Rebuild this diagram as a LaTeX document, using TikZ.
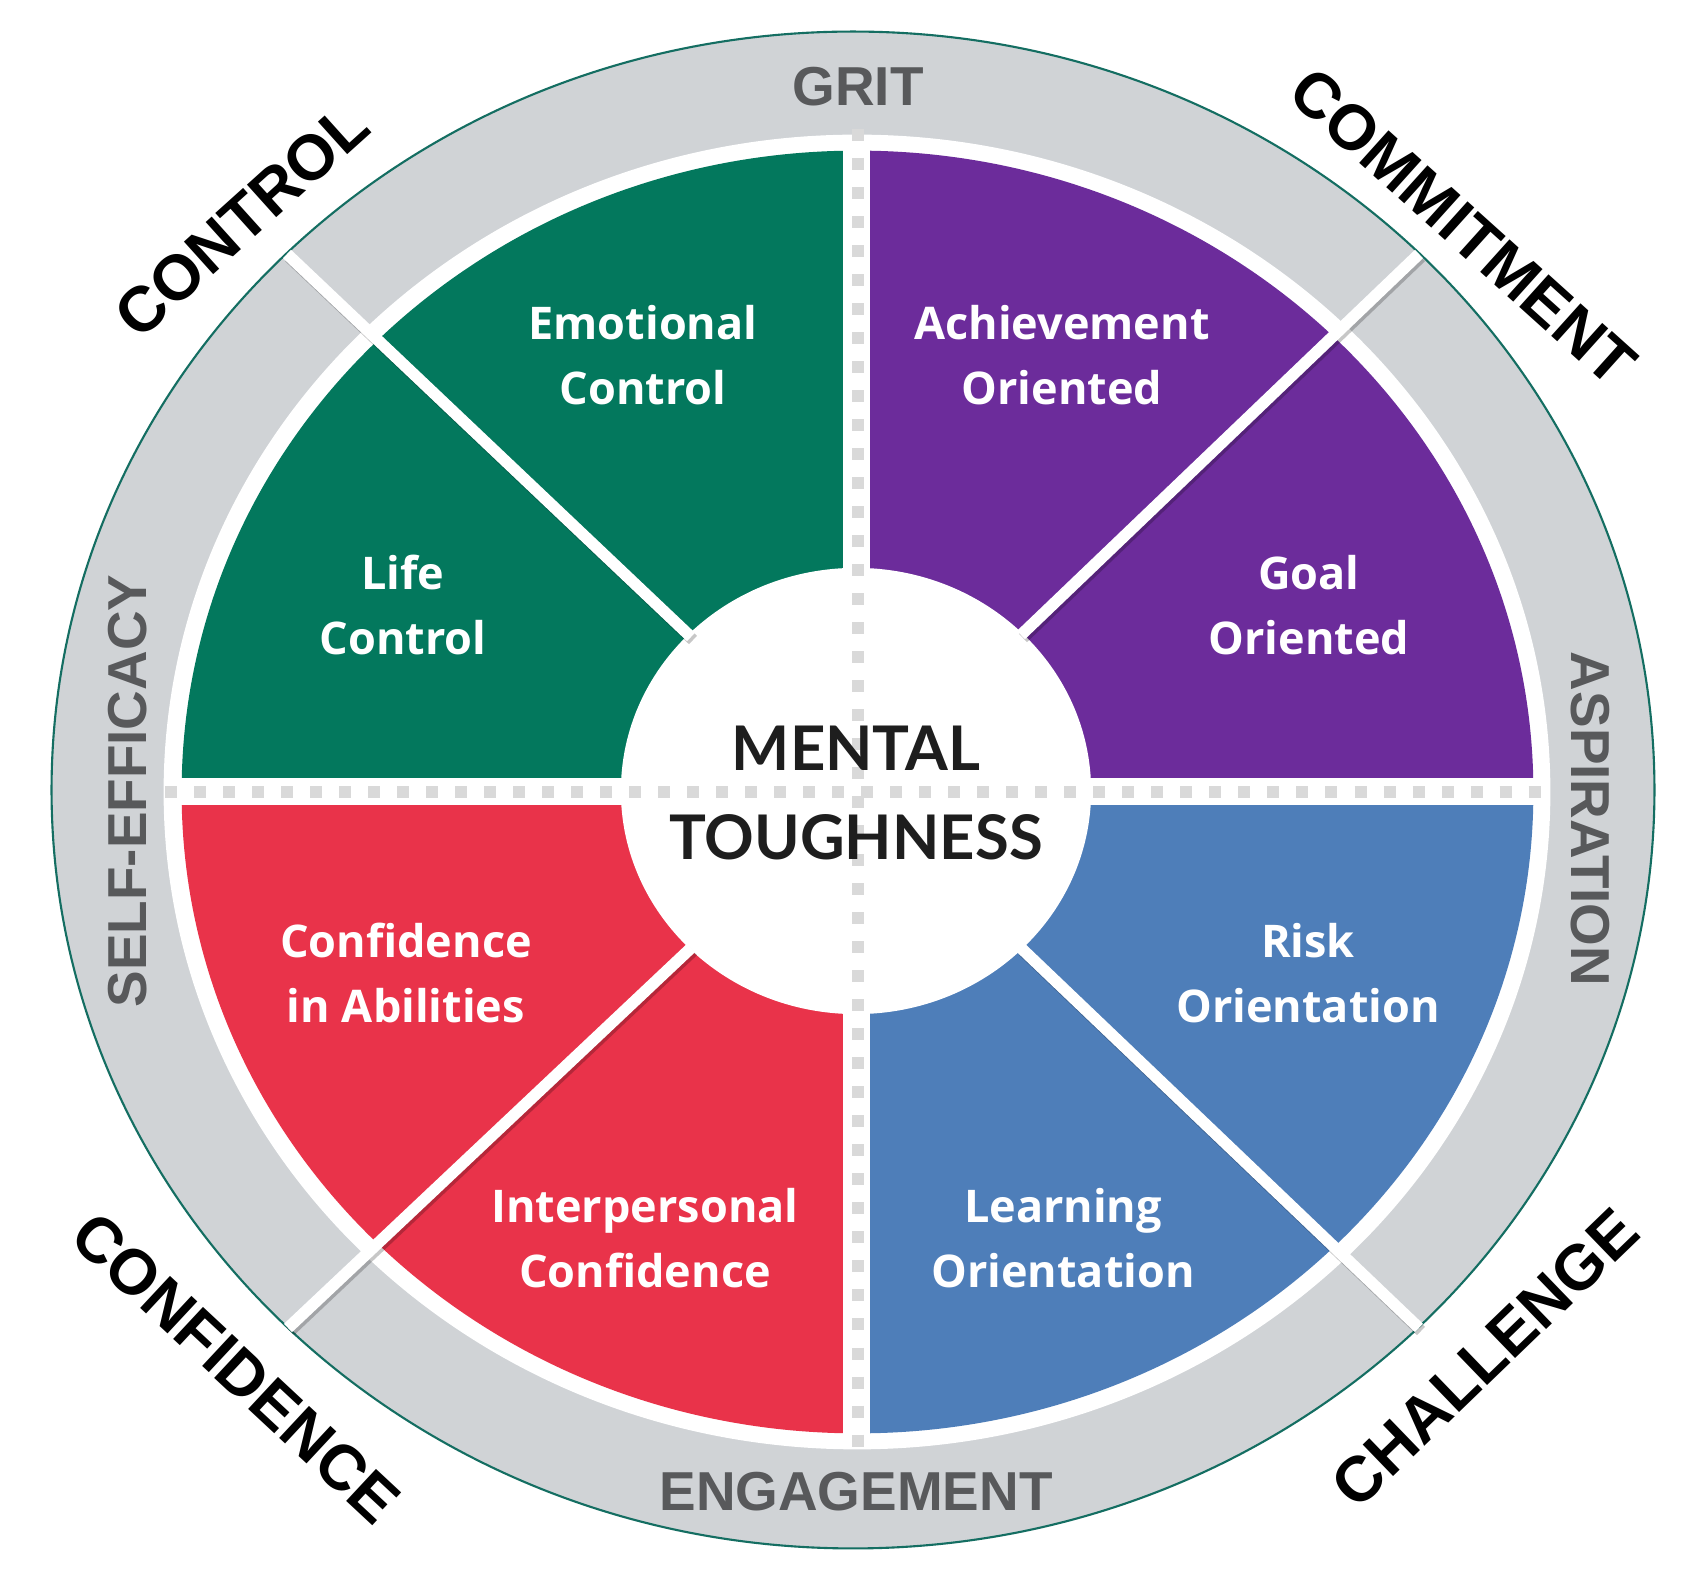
\documentclass[tikz,border=0pt]{standalone}
\usepackage{fontspec}
\newfontfamily\latofont{Lato}
\newfontfamily\opensansfont{Open Sans}
\newfontfamily\arialfont{Liberation Sans}
\definecolor{mtgreen}{RGB}{3,120,93}
\definecolor{mtpurple}{RGB}{108,44,155}
\definecolor{mtred}{RGB}{233,51,74}
\definecolor{mtblue}{RGB}{78,126,185}
\definecolor{ringgray}{RGB}{208,211,214}
\definecolor{rimteal}{RGB}{20,110,98}
\definecolor{ringtext}{RGB}{88,89,91}
\definecolor{dotgray}{RGB}{217,217,217}
\definecolor{titleblack}{RGB}{30,30,30}
\begin{document}
\begin{tikzpicture}[x=0.01cm,y=-0.01cm,
  seclabel/.style={text=white, inner sep=0pt, align=center,
    font=\opensansfont\bfseries\fontsize{12.8}{18.5}\selectfont},
  centerlabel/.style={text=titleblack, inner sep=0pt, align=center,
    font=\latofont\bfseries\fontsize{17.5}{25.3}\selectfont},
  ringlabel/.style={text=ringtext, inner sep=0pt,
    font=\arialfont\bfseries\fontsize{15.6}{15.6}\selectfont},
  outerlabel/.style={text=black, inner sep=0pt,
    font=\arialfont\bfseries\fontsize{18.1}{18.1}\selectfont},
  dotline/.style={draw=dotgray, line width=3.41pt, dash pattern=on 3.41pt off 4.84pt},
  divider/.style={draw=white, line width=3.3pt},
  dividershadow/.style={draw=black, opacity=0.22, line width=3.3pt}
]
\useasboundingbox (0,0) rectangle (1705,1595);
\fill[white] (0,0) rectangle (1705,1595);

% outer gray ring with teal rim
\filldraw[fill=ringgray, draw=rimteal, line width=0.6pt]
  (853,790) ellipse [x radius=8.01cm, y radius=7.58cm];
% white ring
\fill[white] (857,792) ellipse [x radius=6.93cm, y radius=6.57cm];

% coloured quadrants
\begin{scope}
  \clip (857.5,792) ellipse [x radius=6.755cm, y radius=6.41cm];
  \fill[mtgreen]  (100,100) rectangle (843,778);
  \fill[mtpurple] (870,100) rectangle (1620,778);
  \fill[mtred]    (100,805) rectangle (843,1500);
  \fill[mtblue]   (870,805) rectangle (1620,1500);
\end{scope}

% centre disc
\fill[white] (856,791) ellipse [x radius=2.35cm, y radius=2.23cm];

% dotted axes
\coordinate (vt) at (858,129);
\coordinate (vb) at (858,1452);
\coordinate (hl) at (165,792);
\coordinate (hr) at (1552,792);
\draw[dotline] (vt) -- (vb);
\draw[dotline] (hl) -- (hr);

% diagonal dividers
\coordinate (nwi) at (691,637);
\coordinate (nwo) at (287,254);
\coordinate (nei) at (1021,635);
\coordinate (neo) at (1419,254);
\coordinate (swi) at (691,948);
\coordinate (swo) at (288,1328);
\coordinate (sei) at (1021,948);
\coordinate (seo) at (1419,1328);
\foreach \a/\b in {nwi/nwo, nei/neo, swi/swo, sei/seo}{
  \draw[dividershadow] ([shift={(2,3)}]\a) -- ([shift={(2,3)}]\b);
  \draw[divider] (\a) -- (\b);
}

% sector labels
\node[seclabel] (emo) at (643,355) {Emotional\\Control};
\node[seclabel] (ach) at (1062,355) {Achievement\\Oriented};
\node[seclabel] (life) at (403,605) {Life\\Control};
\node[seclabel] (goal) at (1309,605) {Goal\\Oriented};
\node[seclabel] (conf) at (406,973) {Confidence\\in Abilities};
\node[seclabel] (risk) at (1308,973) {Risk\\Orientation};
\node[seclabel] (inter) at (645,1238) {Interpersonal\\Confidence};
\node[seclabel] (learn) at (1063,1238) {Learning\\Orientation};

% centre title
\node[centerlabel] (mt) at (856,793) {MENTAL\\TOUGHNESS};

% ring labels
\node[ringlabel] (grit) at (858,87) {GRIT};
\node[ringlabel] (eng) at (856,1492) {ENGAGEMENT};
\node[ringlabel, rotate=90] (self) at (128,791) {SELF-EFFICACY};
\node[ringlabel, rotate=-90] (asp) at (1590,819) {ASPIRATION};

% outer labels
\node[outerlabel, rotate=42] (control) at (242,220) {CONTROL};
\node[outerlabel, rotate=-42] (commit) at (1463,227) {COMMITMENT};
\node[outerlabel, rotate=-43] (confid) at (236,1368) {CONFIDENCE};
\node[outerlabel, rotate=44] (chall) at (1485,1358) {CHALLENGE};
\end{tikzpicture}
\end{document}
